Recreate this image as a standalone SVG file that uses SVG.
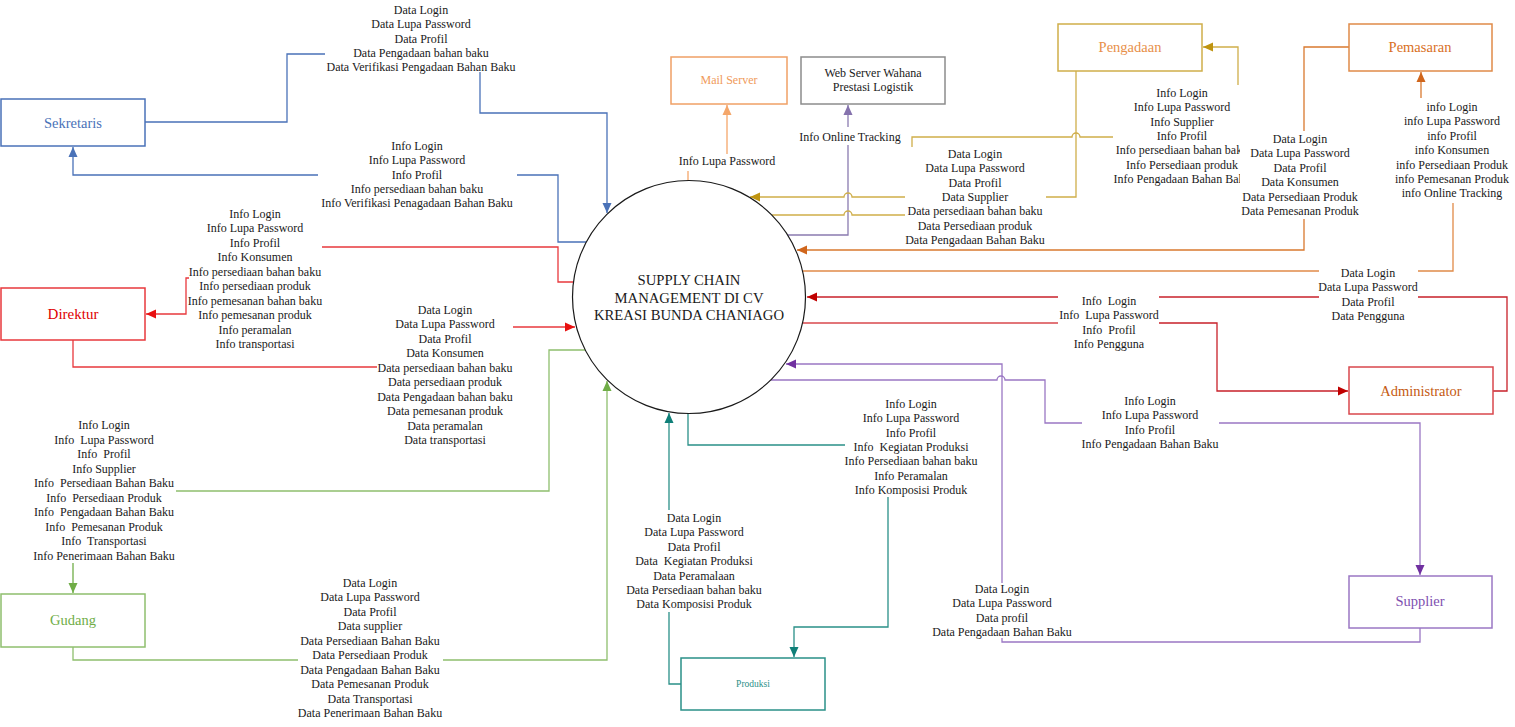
<svg xmlns="http://www.w3.org/2000/svg" width="1515" height="727" viewBox="0 0 1515 727">
<style>
.lb{font-family:"Liberation Serif","Times New Roman",serif;font-size:12px;text-anchor:middle;fill:#1a1a1a}
.nt{font-family:"Liberation Serif","Times New Roman",serif;text-anchor:middle;dominant-baseline:central}
.c{fill:none;stroke-width:1.3}
.bx{fill:#fff;stroke-width:1.5}
</style>
<defs>
<marker id="mBlue" viewBox="0 0 10 10" refX="10" refY="5" markerWidth="10" markerHeight="10" markerUnits="userSpaceOnUse" orient="auto"><path d="M0,0.5L10,5L0,9.5z" fill="#4a72b8"/></marker>
<marker id="mRed" viewBox="0 0 10 10" refX="10" refY="5" markerWidth="10" markerHeight="10" markerUnits="userSpaceOnUse" orient="auto"><path d="M0,0.5L10,5L0,9.5z" fill="#e81010"/></marker>
<marker id="mGreen" viewBox="0 0 10 10" refX="10" refY="5" markerWidth="10" markerHeight="10" markerUnits="userSpaceOnUse" orient="auto"><path d="M0,0.5L10,5L0,9.5z" fill="#70ad47"/></marker>
<marker id="mMail" viewBox="0 0 10 10" refX="10" refY="5" markerWidth="10" markerHeight="10" markerUnits="userSpaceOnUse" orient="auto"><path d="M0,0.5L10,5L0,9.5z" fill="#f4a66a"/></marker>
<marker id="mWeb" viewBox="0 0 10 10" refX="10" refY="5" markerWidth="10" markerHeight="10" markerUnits="userSpaceOnUse" orient="auto"><path d="M0,0.5L10,5L0,9.5z" fill="#8572ad"/></marker>
<marker id="mGold" viewBox="0 0 10 10" refX="10" refY="5" markerWidth="10" markerHeight="10" markerUnits="userSpaceOnUse" orient="auto"><path d="M0,0.5L10,5L0,9.5z" fill="#bf9410"/></marker>
<marker id="mOrange" viewBox="0 0 10 10" refX="10" refY="5" markerWidth="10" markerHeight="10" markerUnits="userSpaceOnUse" orient="auto"><path d="M0,0.5L10,5L0,9.5z" fill="#d0661c"/></marker>
<marker id="mAdmin" viewBox="0 0 10 10" refX="10" refY="5" markerWidth="10" markerHeight="10" markerUnits="userSpaceOnUse" orient="auto"><path d="M0,0.5L10,5L0,9.5z" fill="#c00000"/></marker>
<marker id="mPurple" viewBox="0 0 10 10" refX="10" refY="5" markerWidth="10" markerHeight="10" markerUnits="userSpaceOnUse" orient="auto"><path d="M0,0.5L10,5L0,9.5z" fill="#7030a0"/></marker>
<marker id="mTeal" viewBox="0 0 10 10" refX="10" refY="5" markerWidth="10" markerHeight="10" markerUnits="userSpaceOnUse" orient="auto"><path d="M0,0.5L10,5L0,9.5z" fill="#0f7f78"/></marker>
</defs>
<rect width="1515" height="727" fill="#fff"/>

<g id="connectors">
  <path class="c" stroke="#4a72b8" d="M145,122H287V54H325"/>
  <path class="c" stroke="#4a72b8" d="M480,72V113H607V213" marker-end="url(#mBlue)"/>
  <path class="c" stroke="#4a72b8" d="M586,242H558V175H517"/>
  <path class="c" stroke="#4a72b8" d="M318,175H73V147" marker-end="url(#mBlue)"/>
  <path class="c" stroke="#e8383c" d="M573,282H558V247H322"/>
  <path class="c" stroke="#e8383c" d="M189,278H186V314H146" marker-end="url(#mRed)"/>
  <path class="c" stroke="#e8383c" d="M73,340V367H377"/>
  <path class="c" stroke="#e8383c" d="M513,327H575" marker-end="url(#mRed)"/>
  <path class="c" stroke="#8fbf6e" d="M585,350H549V491H176"/>
  <path class="c" stroke="#70ad47" d="M73,563V593" marker-end="url(#mGreen)"/>
  <path class="c" stroke="#8fbf6e" d="M73,647V660H298"/>
  <path class="c" stroke="#8fbf6e" d="M443,660H607V381" marker-end="url(#mGreen)"/>
  <path class="c" stroke="#f4a66a" d="M688,181V171"/>
  <path class="c" stroke="#f4a66a" d="M727,154V105" marker-end="url(#mMail)"/>
  <path class="c" stroke="#8a7bb0" d="M788,235H848V145"/>
  <path class="c" stroke="#8a7bb0" d="M848,127V105" marker-end="url(#mWeb)"/>
  <path class="c" stroke="#cfae4a" d="M1076,71V197H1046"/>
  <path class="c" stroke="#cfae4a" d="M905,197H852A4,4 0 0 0 844,197H750" marker-end="url(#mGold)"/>
  <path class="c" stroke="#cfae4a" d="M772,215H844A4,4 0 0 1 852,215H905"/>
  <path class="c" stroke="#cfae4a" d="M912,147V137H1072A4,4 0 0 1 1080,137H1113"/>
  <path class="c" stroke="#cfae4a" d="M1238,85V47H1203" marker-end="url(#mGold)"/>
  <path class="c" stroke="#d9792f" d="M1349,47H1304V250H797" marker-end="url(#mOrange)"/>
  <path class="c" stroke="#e08a48" d="M803,271H1319"/>
  <path class="c" stroke="#e08a48" d="M1418,271H1453V203"/>
  <path class="c" stroke="#d9792f" d="M1421,98V72" marker-end="url(#mOrange)"/>
  <path class="c" stroke="#c8202a" d="M1493,391H1507V297H1418"/>
  <path class="c" stroke="#c8202a" d="M1319,297H1159"/>
  <path class="c" stroke="#c8202a" d="M1058,297H807" marker-end="url(#mAdmin)"/>
  <path class="c" stroke="#d9474c" d="M803,323H1058"/>
  <path class="c" stroke="#c8202a" d="M1159,323H1217V391H1348" marker-end="url(#mAdmin)"/>
  <path class="c" stroke="#9a77c4" d="M771,380H997A4,4 0 0 1 1005,380H1045V423H1082"/>
  <path class="c" stroke="#9a77c4" d="M1219,423H1420V575" marker-end="url(#mPurple)"/>
  <path class="c" stroke="#9a77c4" d="M1420,628V642H1002V638"/>
  <path class="c" stroke="#9a77c4" d="M1002,583V364H786" marker-end="url(#mPurple)"/>
  <path class="c" stroke="#2a9088" d="M688,413V445H845"/>
  <path class="c" stroke="#2a9088" d="M888,497V627H794V657" marker-end="url(#mTeal)"/>
  <path class="c" stroke="#2a9088" d="M681,684H669V612"/>
  <path class="c" stroke="#2a9088" d="M669,510V413" marker-end="url(#mTeal)"/>
</g>

<g id="process">
  <circle cx="689" cy="297" r="116.5" fill="none" stroke="#1a1a1a" stroke-width="1.2"/>
  <text class="lb" style="font-size:14.7px"><tspan x="689" y="285">SUPPLY CHAIN</tspan><tspan x="689" y="302.5">MANAGEMENT DI CV</tspan><tspan x="689" y="320">KREASI BUNDA CHANIAGO</tspan></text>
</g>

<g id="sekretaris">
  <rect class="bx" x="1" y="99" width="144" height="47" stroke="#4a72b8"/>
  <text class="nt" x="73" y="123" style="font-size:14.5px" fill="#4a72b8">Sekretaris</text>
</g>
<g id="direktur">
  <rect class="bx" x="1" y="288" width="144" height="52" stroke="#e8383c"/>
  <text class="nt" x="73" y="314" style="font-size:15px" fill="#e00000">Direktur</text>
</g>
<g id="gudang">
  <rect class="bx" x="1" y="594" width="144" height="53" stroke="#8fbf6e"/>
  <text class="nt" x="73" y="620" style="font-size:14.5px" fill="#70ad47">Gudang</text>
</g>
<g id="mail-server">
  <rect class="bx" x="671" y="57" width="116" height="47" stroke="#f0a065"/>
  <text class="nt" x="729" y="80" style="font-size:12px" fill="#f09a5a">Mail Server</text>
</g>
<g id="web-server">
  <rect class="bx" x="801" y="57" width="144" height="47" stroke="#8c8c8c"/>
  <text class="nt" style="font-size:12px" fill="#1a1a1a"><tspan x="873" y="73">Web Server Wahana</tspan><tspan x="873" y="87">Prestasi Logistik</tspan></text>
</g>
<g id="pengadaan">
  <rect class="bx" x="1058" y="24" width="144" height="47" stroke="#cfae4a"/>
  <text class="nt" x="1130" y="47" style="font-size:14.5px" fill="#e8904a">Pengadaan</text>
</g>
<g id="pemasaran">
  <rect class="bx" x="1349" y="24" width="143" height="47" stroke="#e08a48"/>
  <text class="nt" x="1420" y="47" style="font-size:14.5px" fill="#d9701f">Pemasaran</text>
</g>
<g id="administrator">
  <rect class="bx" x="1349" y="367" width="144" height="47" stroke="#d9474c"/>
  <text class="nt" x="1421" y="391" style="font-size:14.5px" fill="#c55a11">Administrator</text>
</g>
<g id="supplier">
  <rect class="bx" x="1349" y="576" width="143" height="52" stroke="#9a77c4"/>
  <text class="nt" x="1420" y="601" style="font-size:14.5px" fill="#7e4fb0">Supplier</text>
</g>
<g id="produksi">
  <rect class="bx" x="681" y="658" width="144" height="52" stroke="#2a9088"/>
  <text class="nt" x="753" y="684" style="font-size:9.5px" fill="#2a9088">Produksi</text>
</g>

<g id="labels">
  <text class="lb"><tspan x="421" y="14">Data Login</tspan><tspan x="421" dy="14.3">Data Lupa Password</tspan><tspan x="421" dy="14.3">Data Profil</tspan><tspan x="421" dy="14.3">Data Pengadaan bahan baku</tspan><tspan x="421" dy="14.3">Data Verifikasi Pengadaan Bahan Baku</tspan></text>
  <text class="lb"><tspan x="417" y="150">Info Login</tspan><tspan x="417" dy="14.3">Info Lupa Password</tspan><tspan x="417" dy="14.3">Info Profil</tspan><tspan x="417" dy="14.3">Info persediaan bahan baku</tspan><tspan x="417" dy="14.3">Info Verifikasi Penagadaan Bahan Baku</tspan></text>
  <text class="lb"><tspan x="255" y="218">Info Login</tspan><tspan x="255" dy="14.45">Info Lupa Password</tspan><tspan x="255" dy="14.45">Info Profil</tspan><tspan x="255" dy="14.45">Info Konsumen</tspan><tspan x="255" dy="14.45">Info persediaan bahan baku</tspan><tspan x="255" dy="14.45">Info persediaan produk</tspan><tspan x="255" dy="14.45">Info pemesanan bahan baku</tspan><tspan x="255" dy="14.45">Info pemesanan produk</tspan><tspan x="255" dy="14.45">Info peramalan</tspan><tspan x="255" dy="14.45">Info transportasi</tspan></text>
  <text class="lb"><tspan x="445" y="314">Data Login</tspan><tspan x="445" dy="14.45">Data Lupa Password</tspan><tspan x="445" dy="14.45">Data Profil</tspan><tspan x="445" dy="14.45">Data Konsumen</tspan><tspan x="445" dy="14.45">Data persediaan bahan baku</tspan><tspan x="445" dy="14.45">Data persediaan produk</tspan><tspan x="445" dy="14.45">Data Pengadaan bahan baku</tspan><tspan x="445" dy="14.45">Data pemesanan produk</tspan><tspan x="445" dy="14.45">Data peramalan</tspan><tspan x="445" dy="14.45">Data transportasi</tspan></text>
  <text class="lb"><tspan x="104" y="429">Info Login</tspan><tspan x="104" dy="14.55">Info&#160; Lupa Password</tspan><tspan x="104" dy="14.55">Info&#160; Profil</tspan><tspan x="104" dy="14.55">Info Supplier</tspan><tspan x="104" dy="14.55">Info&#160; Persediaan Bahan Baku</tspan><tspan x="104" dy="14.55">Info&#160; Persediaan Produk</tspan><tspan x="104" dy="14.55">Info&#160; Pengadaan Bahan Baku</tspan><tspan x="104" dy="14.55">Info&#160; Pemesanan Produk</tspan><tspan x="104" dy="14.55">Info&#160; Transportasi</tspan><tspan x="104" dy="14.55">Info Penerimaan Bahan Baku</tspan></text>
  <text class="lb"><tspan x="370" y="587">Data Login</tspan><tspan x="370" dy="14.45">Data Lupa Password</tspan><tspan x="370" dy="14.45">Data Profil</tspan><tspan x="370" dy="14.45">Data supplier</tspan><tspan x="370" dy="14.45">Data Persediaan Bahan Baku</tspan><tspan x="370" dy="14.45">Data Persediaan Produk</tspan><tspan x="370" dy="14.45">Data Pengadaan Bahan Baku</tspan><tspan x="370" dy="14.45">Data Pemesanan Produk</tspan><tspan x="370" dy="14.45">Data Transportasi</tspan><tspan x="370" dy="14.45">Data Penerimaan Bahan Baku</tspan></text>
  <text class="lb" x="727" y="165">Info Lupa Password</text>
  <text class="lb" x="850" y="141">Info Online Tracking</text>
  <text class="lb"><tspan x="975" y="158">Data Login</tspan><tspan x="975" dy="14.35">Data Lupa Password</tspan><tspan x="975" dy="14.35">Data Profil</tspan><tspan x="975" dy="14.35">Data Supplier</tspan><tspan x="975" dy="14.35">Data persediaan bahan baku</tspan><tspan x="975" dy="14.35">Data Persediaan produk</tspan><tspan x="975" dy="14.35">Data Pengadaan Bahan Baku</tspan></text>
  <text class="lb"><tspan x="1182" y="97">Info Login</tspan><tspan x="1182" dy="14.35">Info Lupa Password</tspan><tspan x="1182" dy="14.35">Info Supplier</tspan><tspan x="1182" dy="14.35">Info Profil</tspan><tspan x="1182" dy="14.35">Info persediaan bahan baku</tspan><tspan x="1182" dy="14.35">Info Persediaan produk</tspan><tspan x="1182" dy="14.35">Info Pengadaan Bahan Baku</tspan></text>
  <rect x="1240" y="131" width="122" height="88" fill="#fff"/>
  <text class="lb"><tspan x="1300" y="143">Data Login</tspan><tspan x="1300" dy="14.4">Data Lupa Password</tspan><tspan x="1300" dy="14.4">Data Profil</tspan><tspan x="1300" dy="14.4">Data Konsumen</tspan><tspan x="1300" dy="14.4">Data Persediaan Produk</tspan><tspan x="1300" dy="14.4">Data Pemesanan Produk</tspan></text>
  <text class="lb"><tspan x="1452" y="111">info Login</tspan><tspan x="1452" dy="14.4">info Lupa Password</tspan><tspan x="1452" dy="14.4">info Profil</tspan><tspan x="1452" dy="14.4">info Konsumen</tspan><tspan x="1452" dy="14.4">info Persediaan Produk</tspan><tspan x="1452" dy="14.4">info Pemesanan Produk</tspan><tspan x="1452" dy="14.4">info Online Tracking</tspan></text>
  <text class="lb"><tspan x="1368" y="277">Data Login</tspan><tspan x="1368" dy="14.35">Data Lupa Password</tspan><tspan x="1368" dy="14.35">Data Profil</tspan><tspan x="1368" dy="14.35">Data Pengguna</tspan></text>
  <text class="lb"><tspan x="1109" y="305">Info&#160; Login</tspan><tspan x="1109" dy="14.4">Info&#160; Lupa Password</tspan><tspan x="1109" dy="14.4">Info&#160; Profil</tspan><tspan x="1109" dy="14.4">Info Pengguna</tspan></text>
  <text class="lb"><tspan x="911" y="408">Info Login</tspan><tspan x="911" dy="14.35">Info Lupa Password</tspan><tspan x="911" dy="14.35">Info Profil</tspan><tspan x="911" dy="14.35">Info&#160; Kegiatan Produksi</tspan><tspan x="911" dy="14.35">Info Persediaan bahan baku</tspan><tspan x="911" dy="14.35">Info Peramalan</tspan><tspan x="911" dy="14.35">Info Komposisi Produk</tspan></text>
  <text class="lb"><tspan x="694" y="522">Data Login</tspan><tspan x="694" dy="14.4">Data Lupa Password</tspan><tspan x="694" dy="14.4">Data Profil</tspan><tspan x="694" dy="14.4">Data&#160; Kegiatan Produksi</tspan><tspan x="694" dy="14.4">Data Peramalaan</tspan><tspan x="694" dy="14.4">Data Persediaan bahan baku</tspan><tspan x="694" dy="14.4">Data Komposisi Produk</tspan></text>
  <text class="lb"><tspan x="1150" y="405">Info Login</tspan><tspan x="1150" dy="14.35">Info Lupa Password</tspan><tspan x="1150" dy="14.35">Info Profil</tspan><tspan x="1150" dy="14.35">Info Pengadaan Bahan Baku</tspan></text>
  <text class="lb"><tspan x="1002" y="593">Data Login</tspan><tspan x="1002" dy="14.35">Data Lupa Password</tspan><tspan x="1002" dy="14.35">Data profil</tspan><tspan x="1002" dy="14.35">Data Pengadaan Bahan Baku</tspan></text>
</g>
</svg>
